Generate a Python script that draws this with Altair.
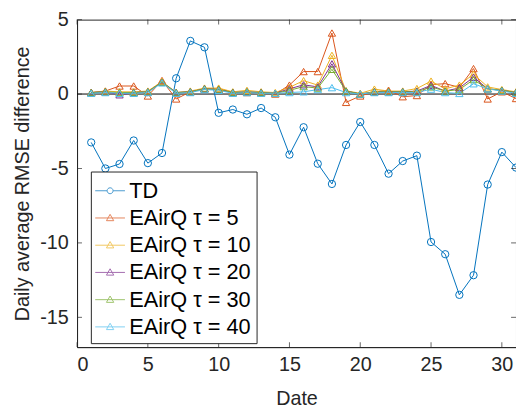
import altair as alt
import pandas as pd

dates = list(range(1, 32))
series_names = ["TD", "EAirQ τ = 5", "EAirQ τ = 10", "EAirQ τ = 20", "EAirQ τ = 30", "EAirQ τ = 40"]
colors = ["#0072BD", "#D95319", "#EDB120", "#7E2F8E", "#77AC30", "#4DBEEE"]

td = [-3.25, -5.0, -4.7, -3.12, -4.64, -3.96, 1.06, 3.57, 3.14, -1.26, -1.04, -1.36, -0.94, -1.56, -4.07,
      -2.23, -4.68, -6.04, -3.42, -1.88, -3.42, -5.35, -4.5, -4.14, -9.94, -10.76, -13.49, -12.17, -6.08, -3.9, -4.94]
tau5 = [0.1, 0.2, 0.54, 0.54, -0.13, 0.91, -0.33, 0.15, 0.35, 0.35, 0.12, 0.1, 0.1, 0.0, 0.6,
        1.51, 1.51, 4.1, -0.56, -0.13, 0.15, 0.26, -0.18, -0.1, 0.63, 0.7, 0.45, 1.71, -0.33, 0.15, -0.3]
tau10 = [0.1, 0.2, 0.15, 0.15, 0.2, 0.85, 0.1, 0.2, 0.4, 0.4, 0.15, 0.25, 0.15, 0.1, 0.45,
         0.9, 0.6, 2.6, 0.22, 0.05, 0.33, 0.2, 0.2, 0.37, 0.87, 0.35, 0.6, 1.34, 0.48, 0.3, 0.15]
tau20 = [0.1, 0.15, -0.05, 0.1, 0.15, 0.8, 0.1, 0.15, 0.35, 0.3, 0.1, 0.15, 0.1, 0.05, 0.35,
         0.62, 0.48, 2.03, 0.2, 0.0, 0.15, 0.15, 0.15, 0.2, 0.58, 0.2, 0.41, 1.13, 0.35, 0.25, 0.1]
tau30 = [0.1, 0.15, 0.1, 0.1, 0.15, 0.8, 0.1, 0.15, 0.35, 0.3, 0.1, 0.15, 0.1, 0.05, 0.25,
         0.5, 0.4, 1.66, 0.2, 0.0, 0.15, 0.15, 0.15, 0.15, 0.48, 0.2, 0.3, 0.97, 0.35, 0.25, 0.1]
tau40 = [0.05, 0.1, 0.05, 0.05, 0.1, 0.75, 0.05, 0.1, 0.3, 0.25, 0.05, 0.1, 0.05, 0.05, 0.1,
         0.15, 0.3, 0.43, 0.1, 0.0, 0.1, 0.1, 0.1, 0.1, 0.33, 0.1, 0.04, 0.69, 0.35, 0.2, 0.05]

x_ticks = [0, 5, 10, 15, 20, 25, 30]
y_ticks = [-15, -10, -5, 0, 5]

all_series = [td, tau5, tau10, tau20, tau30, tau40]
rows = []
for i, (name, vals) in enumerate(zip(series_names, all_series)):
    for d, v in zip(dates, vals):
        rows.append({"date": d, "value": v, "series": name, "order": i})
df = pd.DataFrame(rows)

W, H = 445, 332
PAD_TOP = 9
font = "Liberation Sans"
axis_col = "#262626"

xs = alt.Scale(domain=[0, 31], nice=False, zero=False)
ys = alt.Scale(domain=[-17, 5], nice=False, zero=False)
cscale = alt.Scale(domain=series_names, range=colors)

x_enc = alt.X("date:Q", scale=xs, title="Date",
              axis=alt.Axis(values=x_ticks, ticks=False, grid=False, labelPadding=8, titlePadding=14,
                            labelExpr="'' + datum.value"))
y_enc = alt.Y("value:Q", scale=ys, title="Daily average RMSE difference",
              axis=alt.Axis(values=y_ticks, ticks=False, grid=False, labelPadding=9, titlePadding=7,
                            labelExpr="'' + datum.value"))

base = alt.Chart(df)

lines = base.mark_line(strokeWidth=1, clip=True).encode(
    x=x_enc, y=y_enc,
    color=alt.Color("series:N", scale=cscale, legend=None),
    detail="series:N",
    order="date:Q",
)

shape_scale = alt.Scale(domain=series_names,
                        range=["circle"] + ["triangle-up"] * 5)
points = base.mark_point(filled=False, size=55, strokeWidth=1, opacity=1, clip=True).encode(
    x="date:Q", y="value:Q",
    color=alt.Color("series:N", scale=cscale, legend=None),
    shape=alt.Shape("series:N", scale=shape_scale, legend=None),
    order="order:Q",
)

circ = "M-1.1,0L-0.22,0M0.22,0L1.1,0M-0.22,0A0.22,0.22 0 1,0 0.22,0A0.22,0.22 0 1,0 -0.22,0"
tri = "M-1.1,0L1.1,0M0,-0.27L0.27,0.2L-0.27,0.2Z"
legend_shapes = alt.Scale(domain=series_names, range=[circ] + [tri] * 5)
leg = alt.Legend(title=None, orient="none", legendX=14, legendY=171 - 8 - PAD_TOP,
                 symbolSize=751, symbolStrokeWidth=1, labelFontSize=22, labelFont=font,
                 labelColor="#000000", labelOffset=5, rowPadding=1.6, padding=5,
                 strokeColor=axis_col, fillColor="white", symbolType="circle")
legend_layer = base.transform_filter("false").mark_point(filled=False, strokeWidth=1).encode(
    x="date:Q", y="value:Q",
    color=alt.Color("series:N", scale=cscale, legend=leg),
    shape=alt.Shape("series:N", scale=legend_shapes, legend=leg),
)

zero = alt.Chart(pd.DataFrame({"z": [0]})).mark_rule(color="black", strokeWidth=1).encode(
    y=alt.Y("z:Q", scale=ys))

xt = pd.DataFrame({"t": x_ticks})
yt = pd.DataFrame({"t": y_ticks})
tick_style = dict(color=axis_col, thickness=1, size=5)
xb = alt.Chart(xt).mark_tick(orient="vertical", **tick_style).encode(x=alt.X("t:Q", scale=xs), y=alt.value(H - 2.5))
xtop = alt.Chart(xt).mark_tick(orient="vertical", **tick_style).encode(x=alt.X("t:Q", scale=xs), y=alt.value(2.5))
yl = alt.Chart(yt).mark_tick(orient="horizontal", **tick_style).encode(y=alt.Y("t:Q", scale=ys), x=alt.value(2.5))
yr = alt.Chart(yt).mark_tick(orient="horizontal", **tick_style).encode(y=alt.Y("t:Q", scale=ys), x=alt.value(W - 2.5))

chart = alt.layer(zero, lines, points, legend_layer, xb, xtop, yl, yr).resolve_scale(
    color="independent", shape="independent"
).properties(
    width=W, height=H,
    autosize=alt.AutoSizeParams(type="none"),
    padding={"left": 70, "top": PAD_TOP, "right": 0, "bottom": 411 - 8 - PAD_TOP - H},
    background="white",
).configure_view(stroke=axis_col, strokeWidth=1).configure_axis(
    labelFont=font, titleFont=font, labelFontSize=20, titleFontSize=20,
    labelColor=axis_col, titleColor=axis_col, titleFontWeight="normal",
    domainColor=axis_col, domainWidth=1,
)

chart.save("out.html", embed_options={"renderer": "svg", "actions": False})
